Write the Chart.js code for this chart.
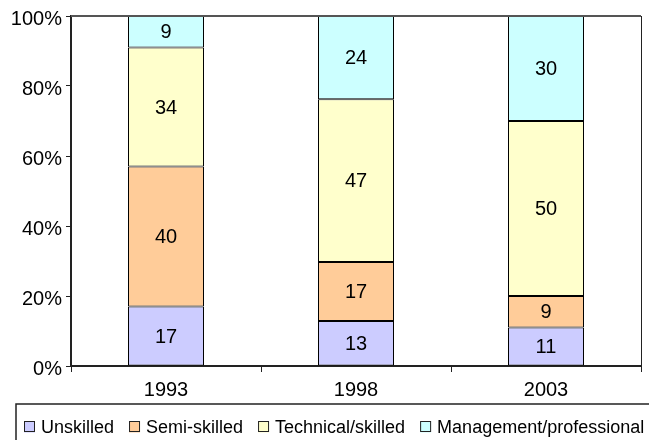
<!DOCTYPE html>
<html>
<head>
<meta charset="utf-8">
<script src="https://cdn.jsdelivr.net/npm/chart.js@4"></script>
<style>
  body { margin: 0; background: #fff; }
  #wrap { width: 649px; height: 440px; position: relative; }
</style>
</head>
<body>
<div id="wrap"><canvas id="myChart"></canvas></div>
<script>
// values (counts per year, shown as 100% stacked)
const years = ['1993', '1998', '2003'];
const seriesNames = ['Unskilled', 'Semi-skilled', 'Technical/skilled', 'Management/professional'];
const unskilled = [17, 13, 11];
const semiSkilled = [40, 17, 9];
const technical = [34, 47, 50];
const management = [9, 24, 30];
const yTicks = [0, 20, 40, 60, 80, 100];

const seriesColors = ['#CCCCFF', '#FFCC99', '#FFFFCC', '#CCFFFF'];
const allSeries = [unskilled, semiSkilled, technical, management];

// totals per year to turn counts into shares
const totals = years.map((y, i) => allSeries.reduce((s, arr) => s + arr[i], 0));

const FONT = "'Liberation Sans', Arial, sans-serif";

// write the count inside each segment
const valueLabels = {
  id: 'valueLabels',
  afterDatasetsDraw(chart) {
    const ctx = chart.ctx;
    ctx.save();
    ctx.font = '20px ' + FONT;
    ctx.fillStyle = '#000';
    ctx.textAlign = 'center';
    ctx.textBaseline = 'middle';
    chart.data.datasets.forEach((ds, di) => {
      const meta = chart.getDatasetMeta(di);
      meta.data.forEach((bar, i) => {
        const p = bar.getProps(['x', 'y', 'base'], true);
        ctx.fillText(String(ds.rawValues[i]), p.x, (p.y + p.base) / 2 + 1);
      });
    });
    ctx.restore();
  }
};

// top/right frame of plot area and the boxed legend row underneath
const frame = {
  id: 'frame',
  afterDraw(chart) {
    const ctx = chart.ctx;
    const a = chart.chartArea;
    ctx.save();
    ctx.strokeStyle = '#555';
    ctx.lineWidth = 2;
    ctx.beginPath();
    ctx.moveTo(a.left, a.top);
    ctx.lineTo(a.right, a.top);
    ctx.stroke();
    ctx.strokeStyle = '#222';
    ctx.lineWidth = 1;
    ctx.beginPath();
    ctx.moveTo(a.right + 0.5, a.top);
    ctx.lineTo(a.right + 0.5, a.bottom);
    ctx.stroke();

    // legend
    const boxTop = chart.height - 36;
    const cy = boxTop + 23;
    ctx.strokeStyle = '#222';
    ctx.lineWidth = 1.5;
    ctx.strokeRect(16, boxTop, 700, 100);
    ctx.font = '18px ' + FONT;
    ctx.textBaseline = 'middle';
    ctx.textAlign = 'left';
    let x = 24;
    chart.data.datasets.forEach(ds => {
      ctx.fillStyle = ds.backgroundColor;
      ctx.fillRect(x, cy - 5.5, 11, 11);
      ctx.strokeStyle = '#222';
      ctx.lineWidth = 1;
      ctx.strokeRect(x + 0.5, cy - 5.5, 10, 10);
      ctx.fillStyle = '#000';
      ctx.fillText(ds.label, x + 17, cy + 1);
      x += 17 + ctx.measureText(ds.label).width + 15;
    });
    ctx.restore();
  }
};

const myChartRef = document.getElementById('myChart').getContext('2d');
const myChart = new Chart(myChartRef, {
  type: 'bar',
  data: {
    labels: years,
    datasets: allSeries.map((vals, k) => ({
      label: seriesNames[k],
      data: vals.map((v, i) => v / totals[i] * 100),
      rawValues: vals,
      backgroundColor: seriesColors[k],
      borderColor: '#000',
      borderWidth: 1,
      borderSkipped: false,
      barPercentage: 0.4,
      categoryPercentage: 1.0
    }))
  },
  options: {
    responsive: true,
    maintainAspectRatio: false,
    animation: false,
    devicePixelRatio: 1,
    layout: { padding: { left: 0, right: 8, top: 16, bottom: 32 } },
    plugins: {
      tooltip: { enabled: false },
      legend: { display: false }
    },
    scales: {
      x: {
        stacked: true,
        grid: { display: true, drawOnChartArea: false, drawTicks: true, tickLength: 6, color: '#222', offset: true },
        border: { display: true, color: '#222', width: 2 },
        ticks: { color: '#000', padding: 6, font: { family: FONT, size: 20 } }
      },
      y: {
        stacked: true,
        min: 0,
        max: 100,
        afterFit(scale) { scale.width = 71; },
        afterBuildTicks(scale) { scale.ticks = yTicks.map(v => ({ value: v })); },
        grid: { display: true, drawOnChartArea: false, drawTicks: true, tickLength: 5, color: '#222' },
        border: { display: true, color: '#222', width: 2 },
        ticks: { color: '#000', padding: 4, labelOffset: 3, font: { family: FONT, size: 20 }, callback: v => v + '%' }
      }
    }
  },
  plugins: [valueLabels, frame]
});
</script>
</body>
</html>
